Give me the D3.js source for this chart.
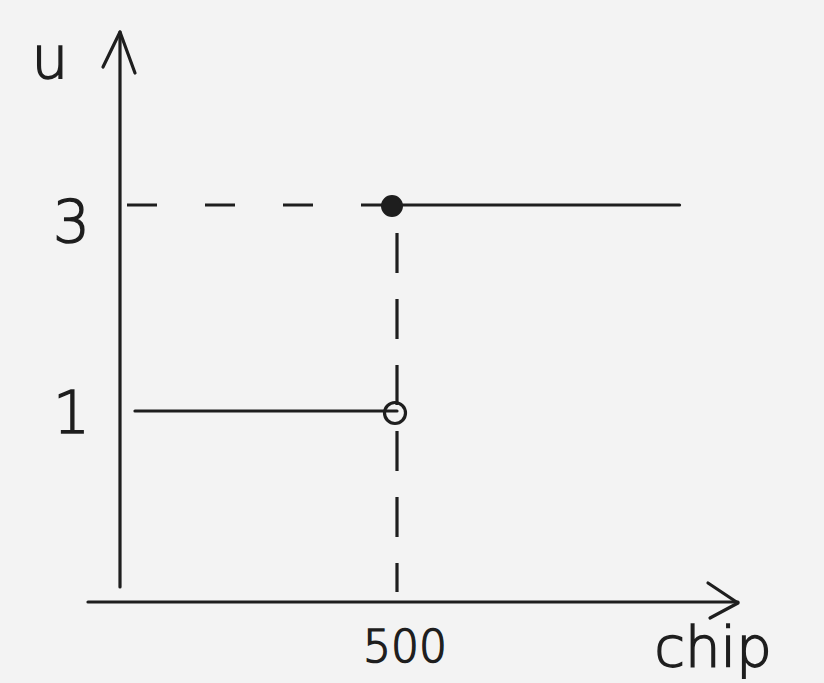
<!DOCTYPE html>
<html><head><meta charset="utf-8">
<script src="https://cdn.jsdelivr.net/npm/d3@7"></script>
<style>body{margin:0;background:#f3f3f3;} svg{display:block;}</style>
</head><body>
<script>
// Data: step function u(chip)
const xTicks = [500];
const xTickLabels = ["500"];
const yTicks = [1, 3];
const yTickLabels = ["1", "3"];
const segStart = [27, 500];
const segEnd = [500, 1010];
const segValue = [1, 3];
const jumpX = 500;
const openValue = 1;   // open circle
const closedValue = 3; // filled circle
const xLabel = "chip";
const yLabel = "u";

const W = 824, H = 683;
const svg = d3.select("body").append("svg").attr("width", W).attr("height", H);
svg.append("rect").attr("width", W).attr("height", H).attr("fill", "#f3f3f3");

const x = d3.scaleLinear().domain([0, 500]).range([120, 397]);
const y = d3.scaleLinear().domain([1, 3]).range([411, 205]);
const ink = "#1e1e1e";
const axisY = 602;

// axes lines
const g = svg.append("g").attr("stroke", ink).attr("fill", "none")
  .attr("stroke-width", 3.2).attr("stroke-linecap", "round").attr("stroke-linejoin", "round");
g.append("line").attr("x1", x(0)).attr("y1", 587).attr("x2", x(0)).attr("y2", 32);
g.append("path").attr("d", `M${x(0)-17},67 L${x(0)},32 L${x(0)+15},73`);
g.append("line").attr("x1", 88).attr("y1", axisY).attr("x2", 738).attr("y2", axisY);
g.append("path").attr("d", `M708,583 L738,603 L710,618`);

// dashed guides
g.append("line").attr("x1", 127).attr("y1", y(closedValue)).attr("x2", x(jumpX) - 12).attr("y2", y(closedValue))
  .attr("stroke-dasharray", "30,48").attr("stroke-linecap", "butt");
g.append("line").attr("x1", x(jumpX)).attr("y1", 233).attr("x2", x(jumpX)).attr("y2", 592)
  .attr("stroke-dasharray", "40,26").attr("stroke-linecap", "butt");

// step segments
segStart.forEach((s, i) => {
  g.append("line").attr("x1", x(s)).attr("y1", y(segValue[i]))
    .attr("x2", x(segEnd[i])).attr("y2", y(segValue[i]));
});

// circles
svg.append("circle").attr("cx", x(jumpX) - 2).attr("cy", y(openValue) + 2).attr("r", 10.5)
  .attr("fill", "none").attr("stroke", ink).attr("stroke-width", 3.2);
svg.append("circle").attr("cx", x(jumpX) - 5).attr("cy", y(closedValue) + 1).attr("r", 10)
  .attr("fill", ink).attr("stroke", ink).attr("stroke-width", 2);

// labels
const font = "'DejaVu Sans', sans-serif";
const t = svg.append("g").attr("fill", ink).attr("stroke", ink).attr("stroke-width", 1.5)
  .attr("font-family", font).attr("font-weight", 200);
yTicks.forEach((v, i) => {
  t.append("text").attr("x", 90).attr("y", y(v) + (v === 3 ? 17 : 2)).attr("dy", "0.35em")
    .attr("text-anchor", "end").attr("font-size", 58).text(yTickLabels[i]);
});
xTicks.forEach((v, i) => {
  t.append("text").attr("x", x(v) + 8).attr("y", 662).attr("text-anchor", "middle")
    .attr("font-size", 44).text(xTickLabels[i]);
});
t.append("text").attr("x", 713).attr("y", 666).attr("text-anchor", "middle")
  .attr("font-size", 56).text(xLabel);
t.append("text").attr("x", 50).attr("y", 78).attr("text-anchor", "middle")
  .attr("font-size", 58).text(yLabel);
</script>
</body></html>
